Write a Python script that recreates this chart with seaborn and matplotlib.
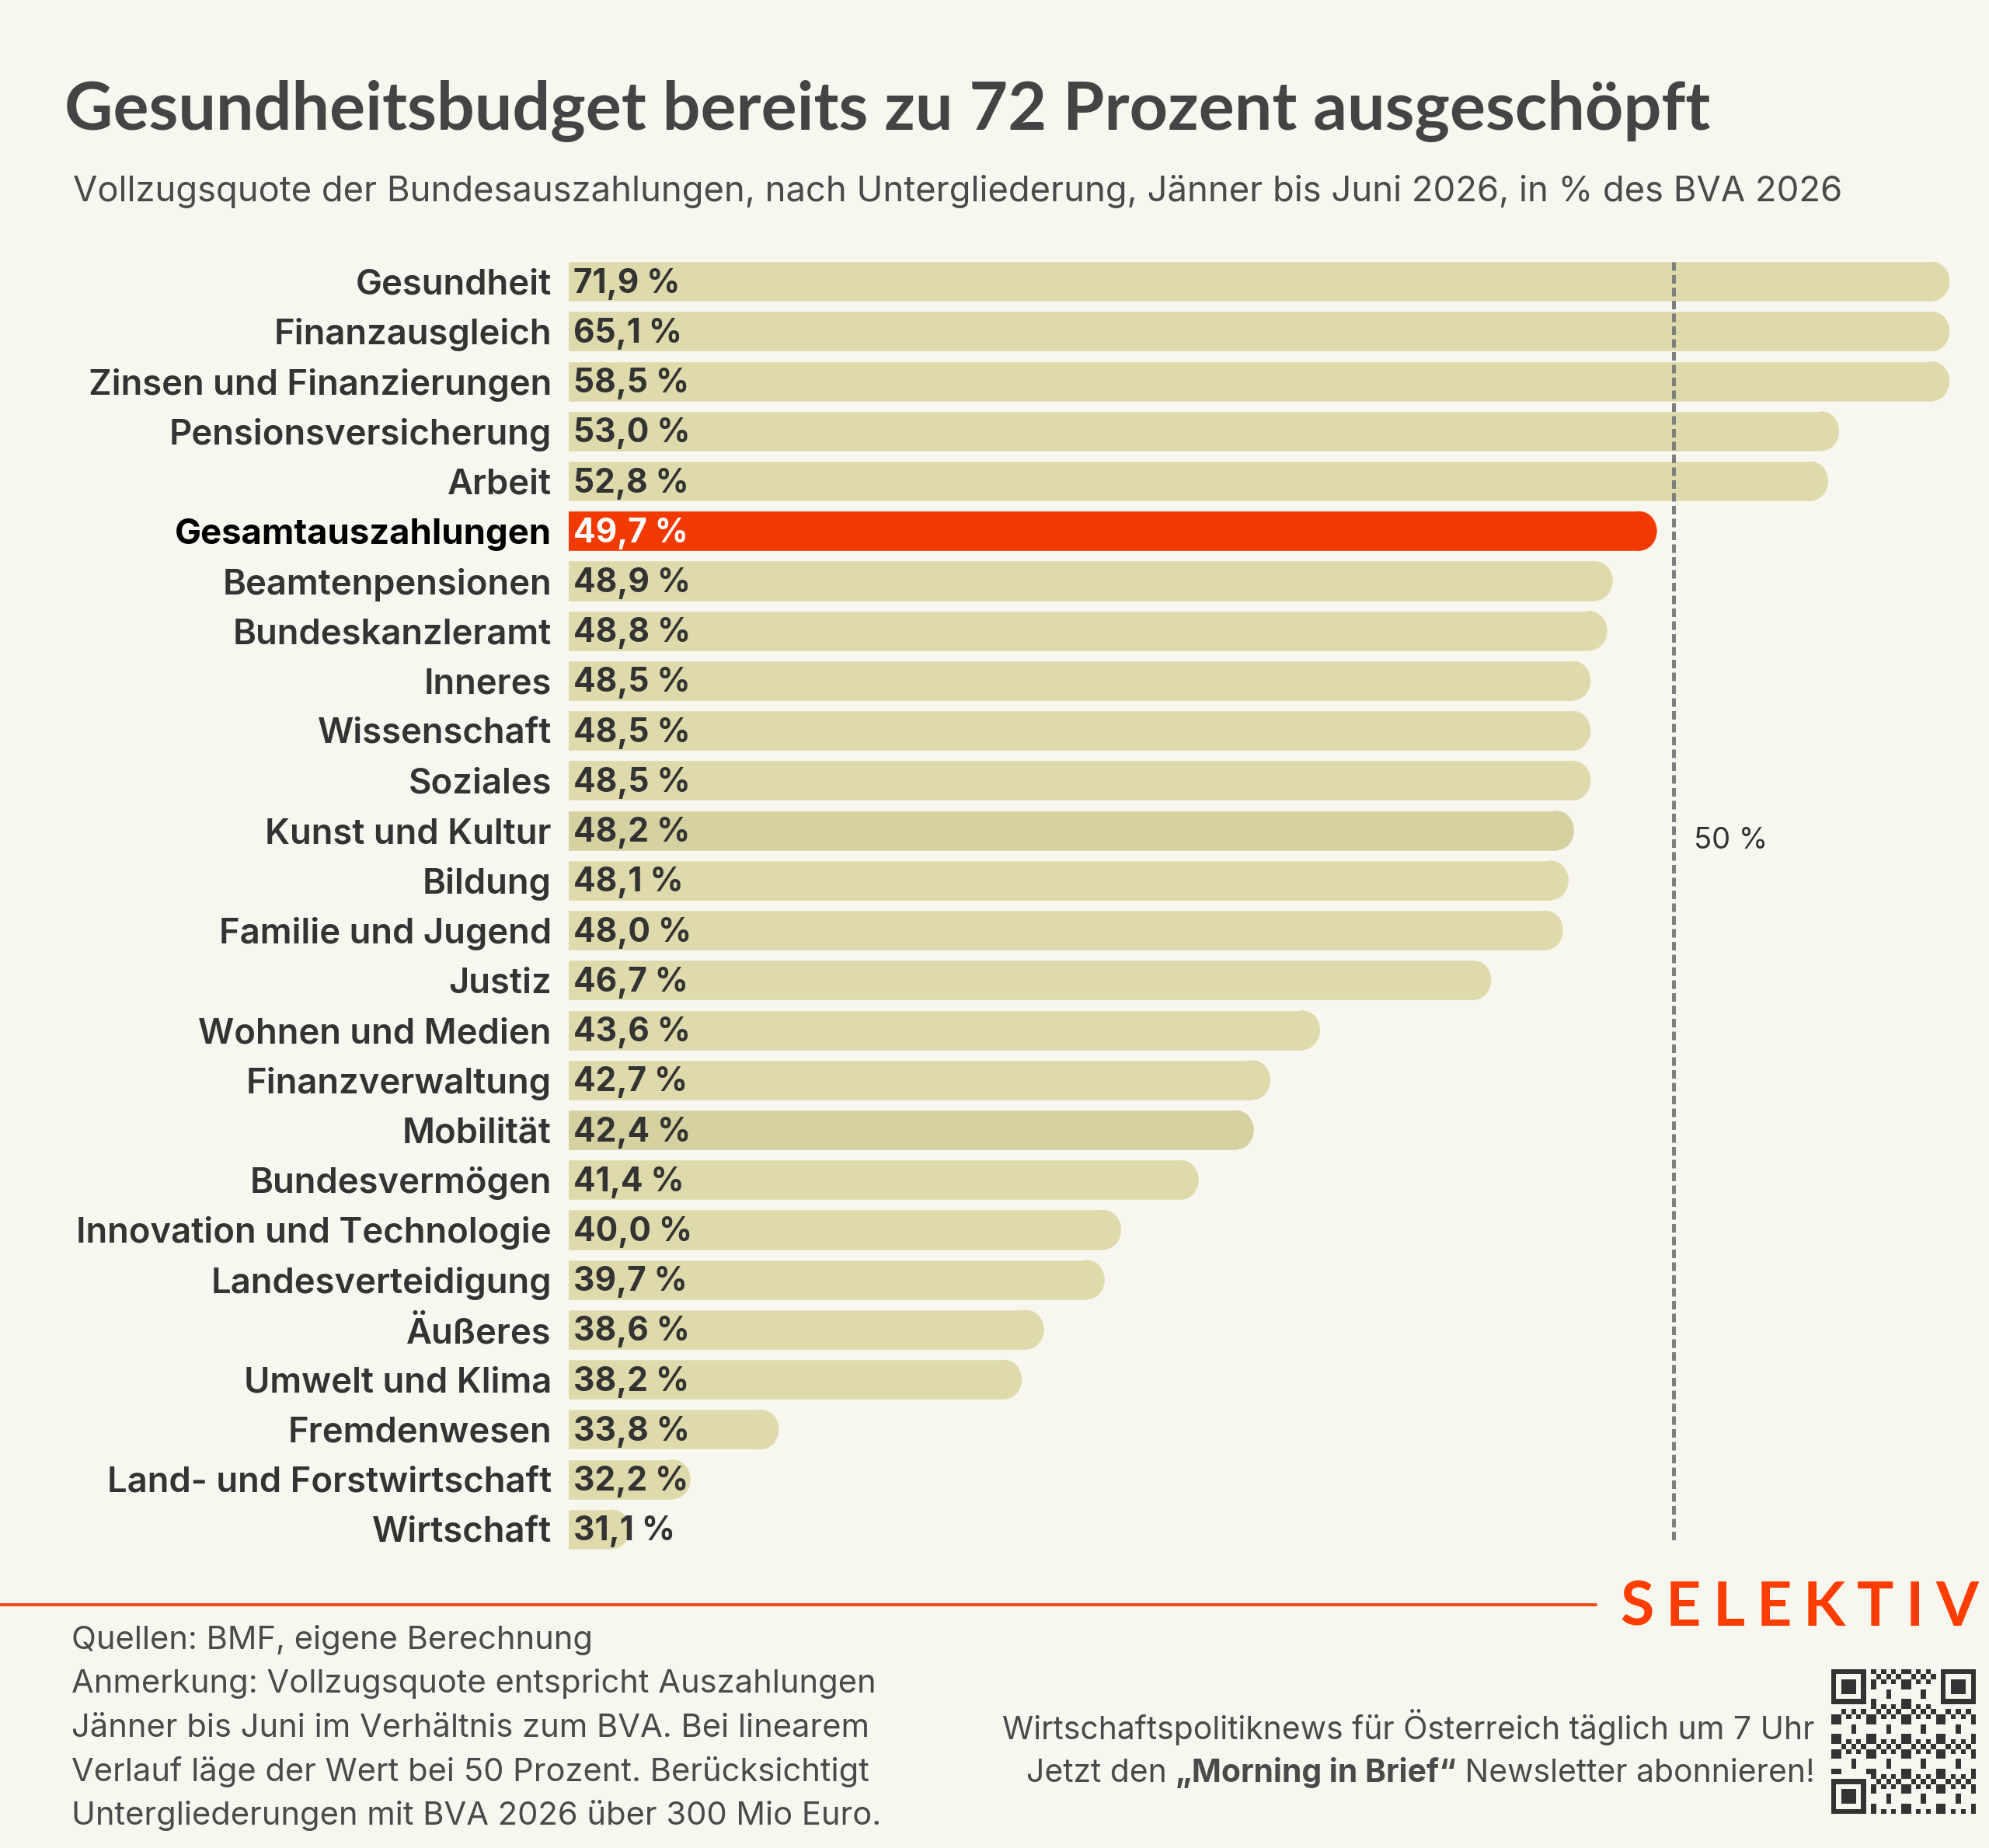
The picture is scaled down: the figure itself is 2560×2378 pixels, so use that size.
import numpy as np
import matplotlib
matplotlib.use("Agg")
import matplotlib.pyplot as plt
from matplotlib.patches import Ellipse
from matplotlib.lines import Line2D
import seaborn as sns

# Daten: Vollzugsquote Jänner bis Juni 2026, in % des BVA 2026
categories = ["Gesundheit", "Finanzausgleich", "Zinsen und Finanzierungen",
              "Pensionsversicherung", "Arbeit", "Gesamtauszahlungen",
              "Beamtenpensionen", "Bundeskanzleramt", "Inneres", "Wissenschaft",
              "Soziales", "Kunst und Kultur", "Bildung", "Familie und Jugend",
              "Justiz", "Wohnen und Medien", "Finanzverwaltung", "Mobilität",
              "Bundesvermögen", "Innovation und Technologie", "Landesverteidigung",
              "Äußeres", "Umwelt und Klima", "Fremdenwesen",
              "Land- und Forstwirtschaft", "Wirtschaft"]
values = [71.9, 65.1, 58.5, 53.0, 52.8, 49.7, 48.9, 48.8, 48.5, 48.5,
          48.5, 48.2, 48.1, 48.0, 46.7, 43.6, 42.7, 42.4, 41.4, 40.0,
          39.7, 38.6, 38.2, 33.8, 32.2, 31.1]
highlight = "Gesamtauszahlungen"
darker = ["Kunst und Kultur", "Mobilität"]
reference_value = 50

title = "Gesundheitsbudget bereits zu 72 Prozent ausgeschöpft"
subtitle = ("Vollzugsquote der Bundesauszahlungen, nach Untergliederung, "
            "Jänner bis Juni 2026, in % des BVA 2026")
notes = ["Quellen: BMF, eigene Berechnung",
         "Anmerkung: Vollzugsquote entspricht Auszahlungen",
         "Jänner bis Juni im Verhältnis zum BVA. Bei linearem",
         "Verlauf läge der Wert bei 50 Prozent. Berücksichtigt",
         "Untergliederungen mit BVA 2026 über 300 Mio Euro."]

BG = "#F8F7EF"
BAR = "#DFDAAB"
BAR_DARK = "#D6D1A1"
RED = "#F23900"
TXT = "#333333"
GREY = "#4A4A4A"

XMIN, XMAX = 30, 55
W, H = 2560, 2378

sns.set_theme(style="white")
plt.rcParams["font.family"] = ["Inter", "DejaVu Sans"]
TITLE_FONT = ["Lato", "DejaVu Sans"]

fig = plt.figure(figsize=(W / 100, H / 100), dpi=100, facecolor=BG)
ax = fig.add_axes([732 / W, 1 - 2000 / H, (2509 - 732) / W, 1670 / H])
ax.set_facecolor(BG)

colors = [RED if c == highlight else BAR_DARK if c in darker else BAR
          for c in categories]
shown = np.minimum(values, XMAX)
sns.barplot(x=shown, y=categories, hue=categories, palette=colors,
            orient="h", width=0.78, legend=False, ax=ax, saturation=1)

# abgerundete Enden
rx = 0.31
for bar, col in zip(ax.patches, colors):
    end = bar.get_x() + bar.get_width()
    bar.set_width(bar.get_width() - rx)
    bar.set_edgecolor(col)
    bar.set_linewidth(0.4)
    y0, h = bar.get_y(), bar.get_height()
    ax.add_patch(Ellipse((end - rx, y0 + h / 2), 2 * rx, h, facecolor=col,
                         edgecolor=col, linewidth=0.4, zorder=bar.get_zorder()))

ax.set_xlim(XMIN, XMAX)
ax.set_ylim(len(categories) - 0.5, -0.5)
ax.set_xticks([])
ax.set_xlabel("")
ax.set_ylabel("")
sns.despine(ax=ax, left=True, bottom=True)
ax.tick_params(axis="y", length=0, pad=16)
for lab in ax.get_yticklabels():
    lab.set_fontsize(32.7)
    if lab.get_text() == highlight:
        lab.set_fontweight("bold")
        lab.set_color("#000000")
    else:
        lab.set_fontweight("semibold")
        lab.set_color(TXT)

for i, (c, v) in enumerate(zip(categories, values)):
    txt = f"{v:.1f}".replace(".", ",") + " %"
    ax.annotate(txt, xy=(XMIN, i), xytext=(6, -3), textcoords="offset pixels",
                va="center", ha="left", fontsize=30.5, fontweight="bold",
                color="white" if c == highlight else TXT, zorder=5)

# 50-%-Linie
ax.vlines(reference_value, -0.39, 25.28, colors="#7F7F7F", linewidth=3.6,
          linestyles=(0, (2.2, 1.1)), zorder=4)
ax.annotate("50 %", xy=(reference_value, 11.2), xytext=(26, 0),
            textcoords="offset pixels", va="center", ha="left",
            fontsize=27.5, color=TXT)

# Titel
fig.text(83 / W, 1 - 167 / H, title, fontsize=62, fontweight="bold",
         family=TITLE_FONT, color="#444444", va="baseline", ha="left")
fig.text(94 / W, 1 - 259 / H, subtitle, fontsize=32.7, color=GREY,
         va="baseline", ha="left")

# Fußzeile
fig.add_artist(Line2D([0, 2054 / W], [1 - 2065 / H] * 2, color="#F04A1A",
                      linewidth=2.9, transform=fig.transFigure))
for k, line in enumerate(notes):
    fig.text(92 / W, 1 - (2122 + k * 56.5) / H, line, fontsize=30,
             color=GREY, va="baseline", ha="left")

renderer = fig.canvas.get_renderer()

# Logo mit Sperrung
logo = "SELEKTIV"
tracking = 15
pieces = []
x = 0
for ch in logo:
    t = fig.text(0, 1 - 2092 / H, ch, fontsize=57, fontweight="bold",
                 family=TITLE_FONT, color="#FF3D00", va="baseline", ha="left")
    w = t.get_window_extent(renderer).width
    pieces.append((t, x))
    x += w + tracking
total = x - tracking
for t, off in pieces:
    t.set_x((2546 - total + off) / W)

fig.text(2336 / W, 1 - 2238 / H,
         "Wirtschaftspolitiknews für Österreich täglich um 7 Uhr",
         fontsize=29.4, color=GREY, va="baseline", ha="right")
right = 2336
for part, wt in [(" Newsletter abonnieren!", "normal"),
                 ("„Morning in Brief“", "bold"), ("Jetzt den ", "normal")]:
    t = fig.text(right / W, 1 - 2293 / H, part, fontsize=29.4, color=GREY,
                 fontweight=wt, va="baseline", ha="right")
    right -= t.get_window_extent(renderer).width

# QR-Code (Dekoration)
n = 29
qr = np.zeros((n, n))
ii, jj = np.meshgrid(np.arange(n), np.arange(n), indexing="ij")
qr[((ii * ii * 3 + jj * jj * 5 + ii * jj * 7 + ii + 2 * jj) % 7) < 3] = 1
def finder(r, c):
    qr[max(r - 1, 0):r + 8, max(c - 1, 0):c + 8] = 0
    qr[r:r + 7, c:c + 7] = 1
    qr[r + 1:r + 6, c + 1:c + 6] = 0
    qr[r + 2:r + 5, c + 2:c + 5] = 1
finder(0, 0)
finder(0, n - 7)
finder(n - 7, 0)
qax = fig.add_axes([2357 / W, 1 - 2334 / H, 186 / W, 186 / H])
qax.imshow(qr, cmap=matplotlib.colors.ListedColormap([BG, "#333333"]),
           interpolation="nearest")
qax.axis("off")

fig.savefig("out.png", dpi=100, facecolor=BG)
